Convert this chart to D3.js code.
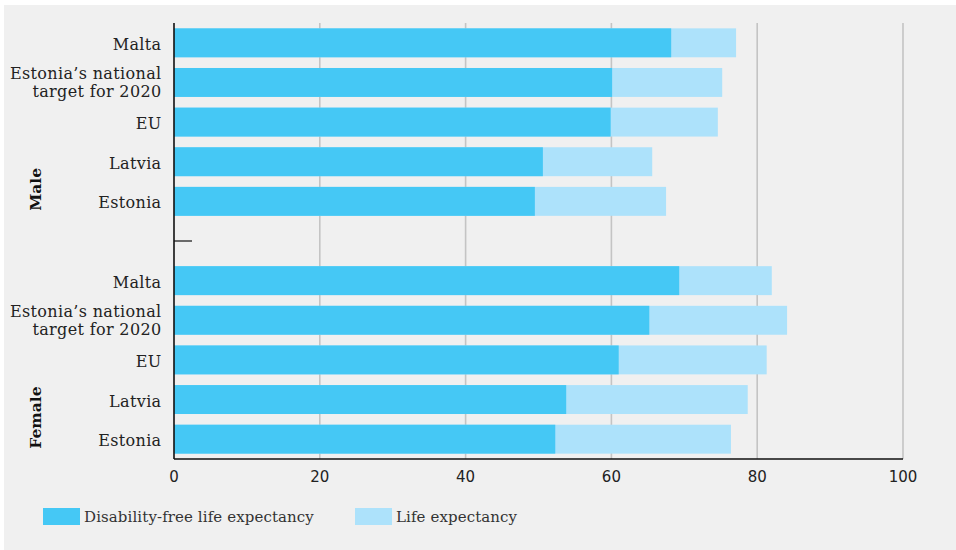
<!DOCTYPE html>
<html><head><meta charset="utf-8">
<script src="https://cdn.jsdelivr.net/npm/d3@7"></script>
<style>
html,body{margin:0;padding:0;background:#fff;}
svg{display:block;}
</style></head>
<body>
<svg id="chart" width="956" height="550"></svg>
<script>
const groups = ["Male", "Female"];
const categories = ["Malta", "Estonia’s national|target for 2020", "EU", "Latvia", "Estonia"];
const maleDisabilityFree = [68.2, 60.1, 59.9, 50.6, 49.5];
const maleLifeExp = [77.1, 75.2, 74.6, 65.6, 67.5];
const femaleDisabilityFree = [69.3, 65.2, 61.0, 53.8, 52.3];
const femaleLifeExp = [82.0, 84.1, 81.3, 78.7, 76.4];
const xTicks = [0, 20, 40, 60, 80, 100];
const seriesNames = ["Disability-free life expectancy", "Life expectancy"];
const colors = ["#45c8f5", "#ade2fb"];

(function () {
const rows = [];
categories.forEach((c, i) => rows.push({key: "M" + i, group: "Male", label: c, dfle: maleDisabilityFree[i], le: maleLifeExp[i]}));
rows.push({key: "gap", group: null, label: "", dfle: null, le: null});
categories.forEach((c, i) => rows.push({key: "F" + i, group: "Female", label: c, dfle: femaleDisabilityFree[i], le: femaleLifeExp[i]}));

const svg = d3.select("#chart");
svg.append("rect").attr("x", 4).attr("y", 5).attr("width", 952).attr("height", 545).attr("fill", "#f0f0f0");

const pL = 174, pR = 903, pT = 23, pB = 459;
const x = d3.scaleLinear().domain([0, 100]).range([pL, pR]);
const y = d3.scaleBand().domain(rows.map(r => r.key)).range([pT, pB]).paddingInner(0.27).paddingOuter(0.135);

// gridlines
svg.append("g").selectAll("line").data(xTicks.filter(t => t > 0)).join("line")
  .attr("x1", d => x(d)).attr("x2", d => x(d)).attr("y1", pT).attr("y2", pB)
  .attr("stroke", "#c4c4c4").attr("stroke-width", 1.6);

// y ticks (inward)
svg.append("g").selectAll("line").data(rows).join("line")
  .attr("x1", pL).attr("x2", pL + 18)
  .attr("y1", d => y(d.key) + y.bandwidth() / 2).attr("y2", d => y(d.key) + y.bandwidth() / 2)
  .attr("stroke", "#111").attr("stroke-width", 1.2);

const data = rows.filter(r => r.group);
svg.append("g").selectAll("rect").data(data).join("rect")
  .attr("x", x(0)).attr("y", d => y(d.key)).attr("height", y.bandwidth())
  .attr("width", d => x(d.le) - x(0)).attr("fill", colors[1]);
svg.append("g").selectAll("rect").data(data).join("rect")
  .attr("x", x(0)).attr("y", d => y(d.key)).attr("height", y.bandwidth())
  .attr("width", d => x(d.dfle) - x(0)).attr("fill", colors[0]);

// axis lines
svg.append("line").attr("x1", pL).attr("x2", pL).attr("y1", pT).attr("y2", pB).attr("stroke", "#111").attr("stroke-width", 1.6);
svg.append("line").attr("x1", pL).attr("x2", pR).attr("y1", pB).attr("y2", pB).attr("stroke", "#111").attr("stroke-width", 1.6);

// category labels
const lab = svg.append("g").attr("font-family", "DejaVu Serif, serif").attr("font-size", 16)
  .attr("letter-spacing", 0.35).attr("fill", "#222");
data.forEach(d => {
  const parts = d.label.split("|");
  const cy = y(d.key) + y.bandwidth() / 2 + (parts.length > 1 ? 0 : 1.5);
  const lh = 18.5;
  parts.forEach((p, i) => {
    lab.append("text").attr("x", 161.5).attr("y", cy + (i - (parts.length - 1) / 2) * lh)
      .attr("dy", "0.35em").attr("text-anchor", "end").text(p);
  });
});

// group labels
groups.forEach(g => {
  const keys = rows.filter(r => r.group === g).map(r => r.key);
  const yb = y(keys[keys.length - 1]) + y.bandwidth() - 5;
  svg.append("text").attr("transform", `translate(40.5,${yb}) rotate(-90)`)
    .attr("font-family", "DejaVu Serif, serif").attr("font-weight", "bold").attr("font-size", 15.5)
    .attr("fill", "#111").text(g);
});

// x tick labels
svg.append("g").selectAll("text").data(xTicks).join("text")
  .attr("x", d => x(d)).attr("y", 477).attr("dy", "0.35em").attr("text-anchor", "middle")
  .attr("font-family", "DejaVu Sans, sans-serif").attr("font-size", 15).attr("fill", "#222")
  .text(d => d);

// legend
const lx = [43, 355];
seriesNames.forEach((s, i) => {
  svg.append("rect").attr("x", lx[i]).attr("y", 508).attr("width", 37).attr("height", 17).attr("fill", colors[i]);
  svg.append("text").attr("x", lx[i] + 41).attr("y", 517).attr("dy", "0.35em")
    .attr("font-family", "DejaVu Serif, serif").attr("font-size", 15).attr("letter-spacing", 0.1)
    .attr("fill", "#333").text(s);
});
})();
</script>
</body></html>
